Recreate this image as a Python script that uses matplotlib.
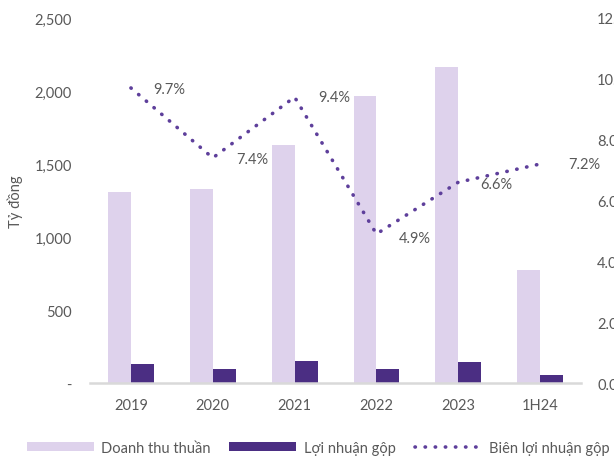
import matplotlib
matplotlib.use("Agg")
import matplotlib.pyplot as plt
from matplotlib.patches import Patch
from matplotlib.lines import Line2D
import numpy as np

categories = ["2019", "2020", "2021", "2022", "2023", "1H24"]
revenue = [1310, 1330, 1630, 1968, 2162, 774]
gross_profit = [127, 98, 153, 96, 143, 56]
margin = [9.7, 7.4, 9.4, 4.9, 6.6, 7.2]
margin_labels = ["9.7%", "7.4%", "9.4%", "4.9%", "6.6%", "7.2%"]

LIGHT = "#DED2EC"
DARK = "#4B2E83"
LINE = "#5E3F9B"
TXT = "#595959"
FS = 10.5

plt.rcParams['font.family'] = ['Lato', 'DejaVu Sans']

fig = plt.figure(figsize=(6.14, 4.6), dpi=100)
ax = fig.add_axes([0.1466, 0.1652, 0.7997, 0.7935])
ax2 = ax.twinx()

x = np.arange(len(categories))
w = 0.28
ax.bar(x - w / 2, revenue, width=w, color=LIGHT, zorder=2)
ax.bar(x + w / 2, gross_profit, width=w, color=DARK, zorder=2)

ax.set_xlim(-0.5, len(categories) - 0.5)
ax.set_ylim(0, 2500)
ax.set_yticks([0, 500, 1000, 1500, 2000, 2500])
ax.set_yticklabels(["-", "500", "1,000", "1,500", "2,000", "2,500"])
ax.set_xticks(x)
ax.set_xticklabels(categories)
ax.tick_params(axis='both', length=0, labelsize=FS, colors=TXT)
ax.tick_params(axis='y', pad=13)
ax.tick_params(axis='x', pad=11)
ax.yaxis.set_label_coords(-0.136, 0.48)
ax.set_ylabel("Tỷ đồng", fontsize=FS, color=TXT)

for side in ["top", "right", "left"]:
    ax.spines[side].set_visible(False)
    ax2.spines[side].set_visible(False)
ax2.spines["bottom"].set_visible(False)
ax.spines["bottom"].set_color("#D9D9D9")
ax.spines["bottom"].set_linewidth(1.8)

DOT = (0, (0.1, 2.7))
ax2.plot(x, margin, color=LINE, linestyle=DOT, linewidth=2.6,
         dash_capstyle='round', zorder=3)
ax2.set_ylim(0, 12)
ax2.set_yticks([0, 2, 4, 6, 8, 10, 12])
ax2.set_yticklabels([f"{v:.1f}%" for v in [0, 2, 4, 6, 8, 10, 12]])
ax2.tick_params(axis='y', length=0, labelsize=FS, colors=TXT, pad=11.5)

offsets = [(16, -1), (17, -1), (17, 0), (16, -3), (16, -1), (20, 0)]
for xi, yi, lab, (dx, dy) in zip(x, margin, margin_labels, offsets):
    ax2.annotate(lab, (xi, yi), xytext=(dx, dy), textcoords='offset points',
                 ha='left', va='center', fontsize=FS, color=TXT)

handles = [
    Patch(facecolor=LIGHT, edgecolor='none'),
    Patch(facecolor=DARK, edgecolor='none'),
    Line2D([0], [0], color=LINE, linestyle=DOT, linewidth=2.6,
           dash_capstyle='round'),
]
labels = ["Doanh thu thuần", "Lợi nhuận gộp", "Biên lợi nhuận gộp"]
fig.legend(handles, labels, loc='center', bbox_to_anchor=(0.518, 0.024), ncol=3,
           frameon=False, fontsize=FS, handlelength=4.6, handleheight=0.55,
           columnspacing=1.3, handletextpad=0.5, labelcolor=TXT,
           borderpad=0, borderaxespad=0)

fig.savefig("out.png", dpi=100)
